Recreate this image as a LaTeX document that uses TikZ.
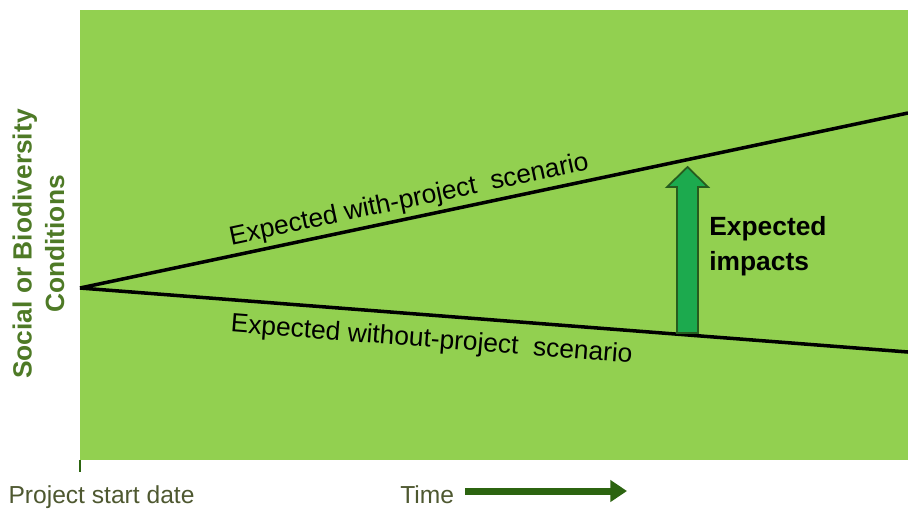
\documentclass[tikz,border=0pt]{standalone}
\usepackage{fontspec}
\setmainfont{Liberation Sans}
\usetikzlibrary{arrows.meta}

\definecolor{fieldgreen}{RGB}{146,208,80}
\definecolor{axisgreen}{RGB}{78,122,38}
\definecolor{labelolive}{RGB}{78,88,48}
\definecolor{timegreen}{RGB}{44,100,16}
\definecolor{impactfill}{RGB}{28,170,78}
\definecolor{impactedge}{RGB}{38,92,30}

\begin{document}
\begin{tikzpicture}[x=0.02cm, y=-0.02cm, font=\fontsize{15}{18}\selectfont]
    \useasboundingbox (0,0) rectangle (908,508);
    \fill[fieldgreen] (80,10) rectangle (908,460);
    % scenario lines
    \coordinate (start) at (80,288);
    \coordinate (withend) at (908,113);
    \coordinate (withoutend) at (908,352);
    \draw[line width=2pt] (start) -- node (withlabel) [sloped, above, pos=0.402, inner sep=2pt] {Expected with-project\ \ scenario} (withend);
    \draw[line width=2pt] (start) -- node (withoutlabel) [sloped, below=4.5pt, pos=0.427, inner sep=2pt] {Expected without-project\ \ scenario} (withoutend);
    % impact arrow
    \draw[draw=impactedge, fill=impactfill, line width=1pt]
          (677,333) -- (677,187) -- (667,187) -- (687.5,167) -- (708,187) -- (698,187) -- (698,333) -- cycle;
    \node (impacts) [anchor=west, align=left, inner sep=0pt, font=\fontsize{15}{20}\selectfont\bfseries] at (709,246) {Expected\\impacts};
    % axes labels
    \node (ylabel) [rotate=90, align=center, inner sep=0pt, text=axisgreen, font=\fontsize{15}{18.5}\selectfont\bfseries] at (38.5,244) {Social or Biodiversity\\Conditions};
    \draw[timegreen, line width=1.6pt] (80,460) -- (80,472);
    \node (startdate) [anchor=base, inner sep=0pt, text=labelolive, font=\fontsize{14}{16}\selectfont] at (101.5,503) {Project start date};
    \node (time) [anchor=base west, inner sep=0pt, text=labelolive, font=\fontsize{14}{16}\selectfont] at (400,503) {Time};
    \coordinate (timestart) at (465,491);
    \coordinate (timeend) at (627,491);
    \draw[timegreen, line width=4pt, -{Triangle[length=9.5pt, width=12pt]}] (timestart) -- (timeend);
  \end{tikzpicture}
\end{document}
